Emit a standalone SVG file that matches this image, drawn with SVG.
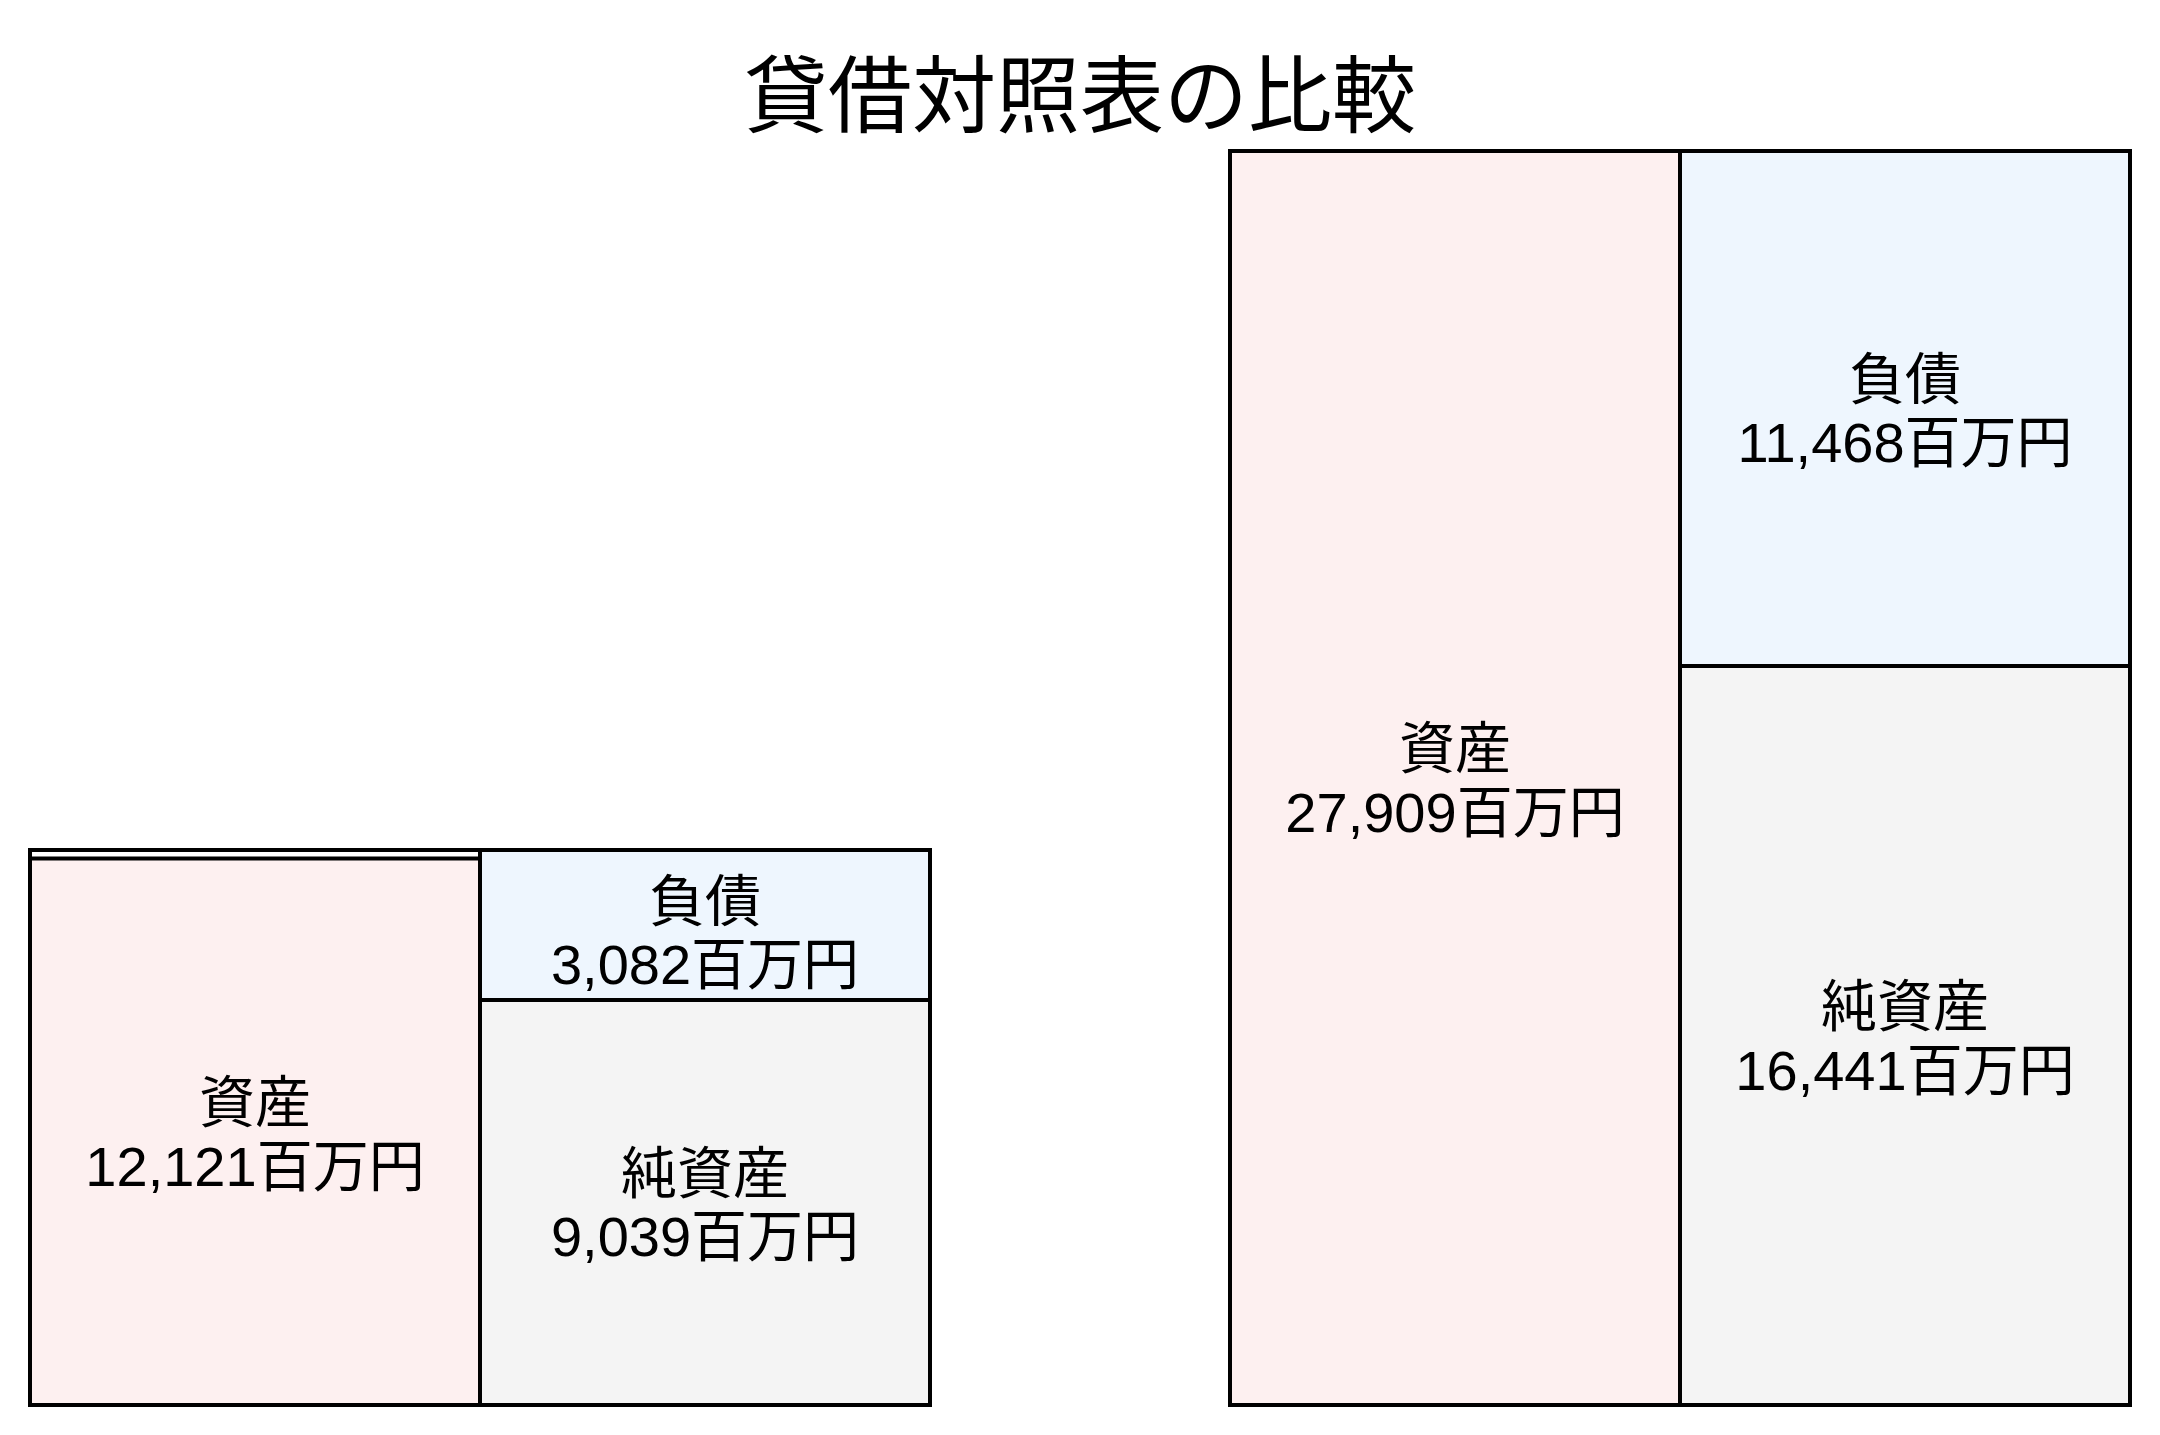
<svg xmlns="http://www.w3.org/2000/svg" width="2160" height="1435" viewBox="0 0 2160 1435">
  <style>
    .box { stroke: #000000; stroke-width: 4; }
    .asset { fill: #FDF0F0; }
    .liab { fill: #EEF6FE; }
    .net { fill: #F4F4F4; }
    .frame { fill: none; stroke: #000000; stroke-width: 4; }
    .lbl { font-family: "Liberation Sans", "Noto Sans CJK JP", sans-serif; font-size: 56px; fill: #000000; text-anchor: middle; }
    .title { font-family: "Noto Sans CJK JP", sans-serif; font-size: 84px; fill: #000000; text-anchor: middle; }
  </style>
  <rect x="0" y="0" width="2160" height="1435" fill="#FFFFFF"/>

  <g id="title">
    <text class="title" x="1080" y="126">貸借対照表の比較</text>
  </g>

  <g id="left-assets">
    <rect class="box asset" x="30" y="858.5" width="450" height="546.5"/>
    <text class="lbl"><tspan x="255" y="1122">資産</tspan><tspan x="255" y="1186">12,121百万円</tspan></text>
  </g>
  <g id="left-liabilities">
    <rect class="box liab" x="480" y="850" width="450" height="150"/>
    <text class="lbl"><tspan x="705" y="921">負債</tspan><tspan x="705" y="984">3,082百万円</tspan></text>
  </g>
  <g id="left-net-assets">
    <rect class="box net" x="480" y="1000" width="450" height="405"/>
    <text class="lbl"><tspan x="705" y="1193">純資産</tspan><tspan x="705" y="1256">9,039百万円</tspan></text>
  </g>
  <g id="left-frame">
    <rect class="frame" x="30" y="850" width="900" height="555"/>
  </g>

  <g id="right-assets">
    <rect class="box asset" x="1230" y="151" width="450" height="1254"/>
    <text class="lbl"><tspan x="1455" y="768">資産</tspan><tspan x="1455" y="832">27,909百万円</tspan></text>
  </g>
  <g id="right-liabilities">
    <rect class="box liab" x="1680" y="151" width="450" height="515"/>
    <text class="lbl"><tspan x="1905" y="399">負債</tspan><tspan x="1905" y="462">11,468百万円</tspan></text>
  </g>
  <g id="right-net-assets">
    <rect class="box net" x="1680" y="666" width="450" height="739"/>
    <text class="lbl"><tspan x="1905" y="1026">純資産</tspan><tspan x="1905" y="1090">16,441百万円</tspan></text>
  </g>
  <g id="right-frame">
    <rect class="frame" x="1230" y="151" width="900" height="1254"/>
  </g>

  <g id="connectors"></g>
</svg>
